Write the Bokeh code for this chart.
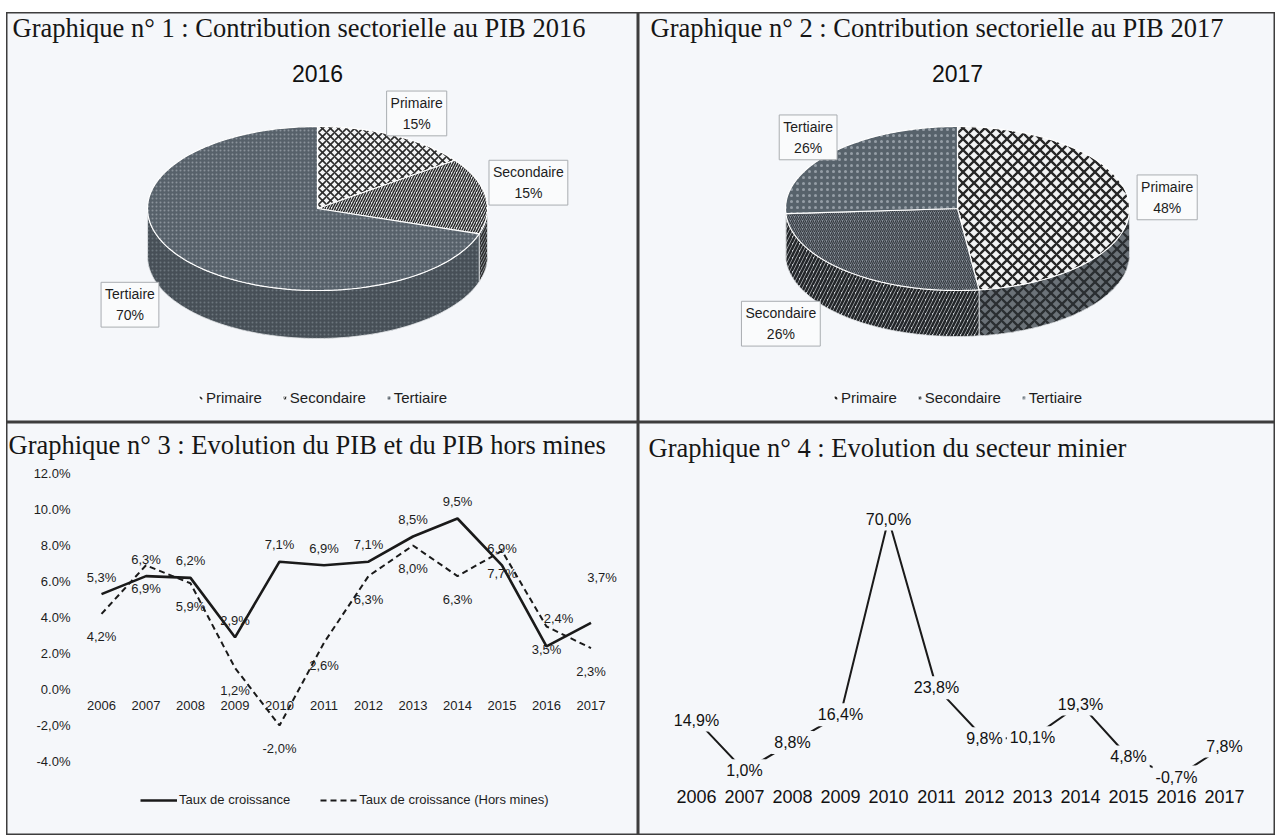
import numpy as np
from bokeh.plotting import figure
from bokeh.models import Range1d, Legend, LegendItem, FixedTicker, Spacer, ColumnDataSource, Label
from bokeh.layouts import column, row
from bokeh.core.properties import value
from bokeh.embed import file_html
from bokeh.resources import INLINE

# ---------------- data ----------------
sectors = ["Primaire", "Secondaire", "Tertiaire"]
shares_2016 = [15, 15, 70]
shares_2017 = [48, 26, 26]

years = [2006, 2007, 2008, 2009, 2010, 2011, 2012, 2013, 2014, 2015, 2016, 2017]
taux_croissance = [5.3, 6.3, 6.2, 2.9, 7.1, 6.9, 7.1, 8.5, 9.5, 6.9, 2.4, 3.7]
taux_hors_mines = [4.2, 6.9, 5.9, 1.2, -2.0, 2.6, 6.3, 8.0, 6.3, 7.7, 3.5, 2.3]
secteur_minier = [14.9, 1.0, 8.8, 16.4, 70.0, 23.8, 9.8, 10.1, 19.3, 4.8, -0.7, 7.8]

pib_ticks = [-4, -2, 0, 2, 4, 6, 8, 10, 12]
pib_tick_labels = ["-4.0%", "-2,0%", "0.0%", "2.0%", "4.0%", "6.0%", "8.0%", "10.0%", "12.0%"]

titles = [
    "Graphique n° 1 : Contribution sectorielle au PIB 2016",
    "Graphique n° 2 : Contribution sectorielle au PIB 2017",
    "Graphique n° 3 : Evolution du PIB et du PIB hors mines",
    "Graphique n° 4 : Evolution du secteur minier",
]
legend_pib = ["Taux de croissance", "Taux de croissance (Hors mines)"]

# ---------------- styles ----------------
BG = "#f5f7fa"
BORDER = "#3d3d3d"
INK = "#1a1a1a"
SERIF = "Liberation Serif"
SANS = "Liberation Sans"
NARROW = "Liberation Sans Narrow, Liberation Sans"


def pct(v):
    return f"{v:.1f}".replace(".", ",") + "%"


def base_fig(w, h, xr, yr, xaxis=False, yaxis=False):
    p = figure(width=w, height=h, x_range=xr, y_range=yr,
               output_backend="svg", toolbar_location=None, min_border=0,
               x_axis_location="below" if xaxis else None,
               y_axis_location="left" if yaxis else None,
               background_fill_color=BG, border_fill_color=BG,
               outline_line_color=BORDER, outline_line_width=2)
    p.grid.visible = False
    return p


def add_title(p, text, x, y_top, h):
    p.add_layout(Label(x=x, y=h - y_top, x_units="screen", y_units="screen", text=text,
                       text_font=SERIF, text_font_size="26.5px", text_color="#161616",
                       text_baseline="middle", text_align="left"))


STY_2016 = [
    dict(top=dict(fill_color="#f3f4f5", hatch_pattern="diagonal_cross", hatch_color="#2b2b2b", hatch_scale=8, hatch_weight=1.6),
         side=dict(fill_color="#8a9096", hatch_pattern="diagonal_cross", hatch_color="#2b2b2b", hatch_scale=8, hatch_weight=1.6)),
    dict(top=dict(fill_color="#e9ecef", hatch_pattern="right_diagonal_line", hatch_color="#2a2a2a", hatch_scale=5, hatch_weight=1.5),
         side=dict(fill_color="#8d949a", hatch_pattern="right_diagonal_line", hatch_color="#2a2a2a", hatch_scale=5, hatch_weight=1.5)),
    dict(top=dict(fill_color="#57616a", hatch_pattern="dot", hatch_color="#8a939b", hatch_scale=4, hatch_weight=0.8),
         side=dict(fill_color="#474f57", hatch_pattern="dot", hatch_color="#6c757d", hatch_scale=4, hatch_weight=0.8)),
]
STY_2017 = [
    dict(top=dict(fill_color="#f2f3f4", hatch_pattern="diagonal_cross", hatch_color="#262626", hatch_scale=11, hatch_weight=2.3),
         side=dict(fill_color="#6b7278", hatch_pattern="diagonal_cross", hatch_color="#2a2e31", hatch_scale=11, hatch_weight=2.3)),
    dict(top=dict(fill_color="#88909a", hatch_pattern="right_diagonal_line", hatch_color="#353a40", hatch_scale=4, hatch_weight=1.2),
         side=dict(fill_color="#cfd3d7", hatch_pattern="right_diagonal_line", hatch_color="#232629", hatch_scale=7, hatch_weight=2.6)),
    dict(top=dict(fill_color="#57626b", hatch_pattern="dot", hatch_color="#959ea6", hatch_scale=6, hatch_weight=1),
         side=dict(fill_color="#4a535b", hatch_pattern="dot", hatch_color="#78818a", hatch_scale=6, hatch_weight=1)),
]


def pie_panel(shares, year_label, title, styles, label_off, w, h, cx, cy, rx, ry, depth,
              title_x, legend_x):
    p = base_fig(w, h, Range1d(0, w), Range1d(h, 0))
    add_title(p, title, title_x, 15, h)
    p.add_layout(Label(x=cx, y=h - 61, x_units="screen", y_units="screen", text=year_label,
                       text_font=SANS, text_font_size="23px", text_color="#111",
                       text_align="center", text_baseline="middle"))
    bounds = np.concatenate([[0.0], np.cumsum(shares)]) / float(sum(shares)) * 360.0
    # visible side of the 3D pie
    for i in range(len(shares)):
        a0, a1 = bounds[i], bounds[i + 1]
        s0, s1 = max(a0, 90.0), min(a1, 270.0)
        if s1 > s0:
            th = np.radians(np.linspace(s0, s1, 80))
            xs = cx + rx * np.sin(th)
            ys = cy - ry * np.cos(th)
            p.patch(np.concatenate([xs, xs[::-1]]), np.concatenate([ys, ys[::-1] + depth]),
                    line_color="#e4e7ea", line_width=0.8, **styles[i]["side"])
    tops = []
    for i in range(len(shares)):
        a0, a1 = bounds[i], bounds[i + 1]
        th = np.radians(np.linspace(a0, a1, 160))
        xs = np.concatenate([[cx], cx + rx * np.sin(th)])
        ys = np.concatenate([[cy], cy - ry * np.cos(th)])
        tops.append(p.patch(xs, ys, line_color="white", line_width=1.2, **styles[i]["top"]))
    mids = np.radians((bounds[:-1] + bounds[1:]) / 2)
    lx = cx + rx * np.sin(mids) + np.array([o[0] for o in label_off])
    ly = cy - ry * np.cos(mids) + np.array([o[1] for o in label_off])
    src = ColumnDataSource(dict(x=lx, y=ly, t=[f"{s}\n{v}%" for s, v in zip(sectors, shares)]))
    p.text(x="x", y="y", text="t", source=src, text_align="center", text_baseline="middle",
           text_font=value(SANS), text_font_size="14px", text_line_height=1.3, text_color="#1d1d1d",
           background_fill_color="#fafbfc", border_line_color="#a9adb1", padding=4)
    legend = Legend(items=[LegendItem(label=s, renderers=[r]) for s, r in zip(sectors, tops)],
                    orientation="horizontal", location=(legend_x, 16), glyph_width=5, glyph_height=5,
                    label_standoff=3, spacing=20, padding=0, margin=0,
                    label_text_font=SANS, label_text_font_size="15px", label_text_color="#1d1d1d",
                    border_line_color=None, background_fill_alpha=0)
    p.add_layout(legend)
    return p


p1 = pie_panel(shares_2016, "2016", titles[0], STY_2016,
               [(22, -22), (43, -13), (-50, 48)], 632, 410, 311, 196, 170, 82, 48, 6, 192)
p2 = pie_panel(shares_2017, "2017", titles[1], STY_2017,
               [(38, -6), (-67, 52), (-24, -15)], 637, 410, 319, 196, 172, 82, 46, 12, 195)

# ---------------- panel 3 ----------------
W3, H3 = 632, 413
px3 = 44.5
x0_3 = 2006 - 95 / px3
y0_3, y1_3 = -(H3 - 267) / 18.0, 267 / 18.0
ppu3 = H3 / (y1_3 - y0_3)
p3 = base_fig(W3, H3, Range1d(x0_3, x0_3 + W3 / px3), Range1d(y0_3, y1_3), xaxis=True, yaxis=True)
add_title(p3, titles[2], 2, 22, H3)
for ax in (p3.xaxis, p3.yaxis):
    ax.axis_line_color = None
    ax.major_tick_line_color = None
    ax.minor_tick_line_color = None
    ax.major_tick_out = 0
    ax.major_tick_in = 0
    ax.minor_tick_out = 0
    ax.major_label_text_font = NARROW
    ax.major_label_text_font_size = "13px"
    ax.major_label_text_color = "#1d1d1d"
p3.yaxis.fixed_location = x0_3 + 68 / px3
p3.yaxis.ticker = FixedTicker(ticks=pib_ticks)
p3.yaxis.major_label_overrides = {t: l for t, l in zip(pib_ticks, pib_tick_labels)}
p3.yaxis.major_label_standoff = 4
p3.xaxis.fixed_location = 0
p3.xaxis.ticker = FixedTicker(ticks=years)
p3.xaxis.major_label_overrides = {y: str(y) for y in years}
p3.xaxis.major_label_standoff = 11

r_solid = p3.line(years, taux_croissance, line_color=INK, line_width=2.6)
r_dash = p3.line(years, taux_hors_mines, line_color=INK, line_width=2, line_dash="6 4")

solid_lift = [17] * 10 + [28, 45]
solid_shift = [0] * 10 + [12, 11]
p3.text(x=[y + s / px3 for y, s in zip(years, solid_shift)],
        y=[v + l / ppu3 for v, l in zip(taux_croissance, solid_lift)],
        text=[pct(v) for v in taux_croissance], text_align="center", text_baseline="middle",
        text_font=value(NARROW), text_font_size="13px", text_color="#1d1d1d")
p3.text(x=years, y=[v - 23 / ppu3 for v in taux_hors_mines],
        text=[pct(v) for v in taux_hors_mines], text_align="center", text_baseline="middle",
        text_font=value(NARROW), text_font_size="13px", text_color="#1d1d1d")
leg3 = Legend(items=[LegendItem(label=legend_pib[0], renderers=[r_solid]),
                     LegendItem(label=legend_pib[1], renderers=[r_dash])],
              orientation="horizontal", location=(134, 28), glyph_width=37, glyph_height=14,
              label_standoff=2, spacing=30, padding=0, margin=0,
              label_text_font=NARROW, label_text_font_size="13px", label_text_color="#1d1d1d",
              border_line_color=None, background_fill_alpha=0)
p3.add_layout(leg3)

# ---------------- panel 4 ----------------
W4, H4 = 637, 413
px4 = 48.0
ppu4 = 3.65
x0_4 = 2006 - 58 / px4
p4 = base_fig(W4, H4, Range1d(x0_4, x0_4 + W4 / px4),
              Range1d(-(H4 - 352) / ppu4, 352 / ppu4), xaxis=True)
add_title(p4, titles[3], 10, 25, H4)
p4.xaxis.axis_line_color = None
p4.xaxis.major_tick_line_color = None
p4.xaxis.minor_tick_line_color = None
p4.xaxis.major_tick_out = 0
p4.xaxis.major_tick_in = 0
p4.xaxis.minor_tick_out = 0
p4.xaxis.fixed_location = -2
p4.xaxis.ticker = FixedTicker(ticks=years)
p4.xaxis.major_label_overrides = {y: str(y) for y in years}
p4.xaxis.major_label_standoff = 8
p4.xaxis.major_label_text_font = SANS
p4.xaxis.major_label_text_font_size = "18px"
p4.xaxis.major_label_text_color = "#111"

p4.line(years, secteur_minier, line_color=INK, line_width=2)
p4.text(x=years, y=secteur_minier, text=[pct(v) for v in secteur_minier],
        text_align="center", text_baseline="middle", text_font=value(SANS),
        text_font_size="16px", text_color="#111", background_fill_color=BG, padding=3)

layout = column(Spacer(height=12),
                row(Spacer(width=6), p1, p2),
                row(Spacer(width=6), p3, p4))

with open("out.html", "w") as f:
    f.write(file_html(layout, INLINE))
